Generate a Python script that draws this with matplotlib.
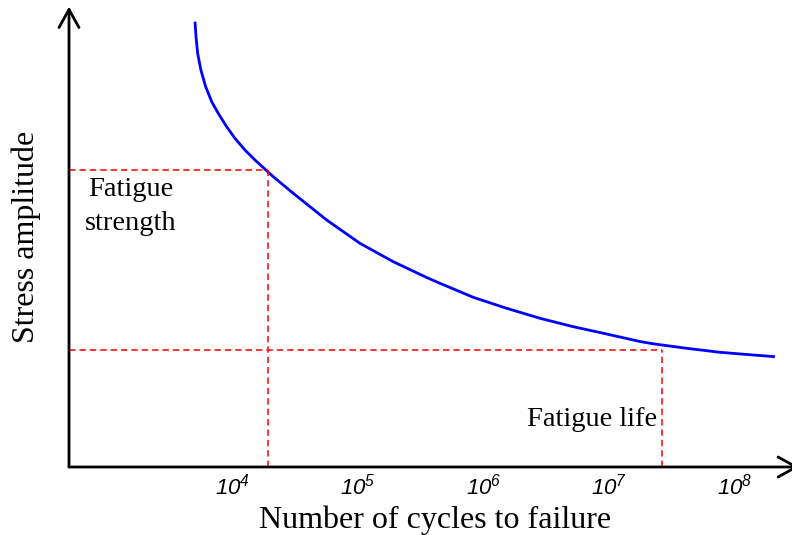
import numpy as np
import matplotlib.pyplot as plt

plt.rcParams['font.family'] = ['Liberation Serif', 'DejaVu Serif']
plt.rcParams['mathtext.fontset'] = 'custom'
plt.rcParams['mathtext.rm'] = 'Liberation Sans:italic'
plt.rcParams['mathtext.it'] = 'Liberation Sans:italic'

# S-N curve (x as log10 of cycles, stress in relative units)
log_cycles = [3.700, 3.708, 3.721, 3.747, 3.785, 3.833, 3.885, 3.952, 4.018,
              4.098, 4.178, 4.271, 4.331, 4.483, 4.749, 5.014, 5.280, 5.546,
              5.652, 5.917, 6.183, 6.449, 6.714, 6.980, 7.245, 7.351, 7.618,
              7.883, 8.148, 8.321]
stress = [445.3, 430.3, 413.7, 397, 380.3, 365.3, 353.7, 340.3, 328.7,
          317, 307, 296.3, 289.5, 273.7, 247, 223.7, 205.3, 189.5,
          183.7, 169.7, 158.7, 148.7, 140.3, 133, 125.5, 123.2, 118.7,
          114.7, 112, 110.3]

# fatigue strength / fatigue life guide lines
strength_point = (4.282, 297)
life_point = (7.418, 117)

tick_exponents = [4, 5, 6, 7, 8]
x_range = (2.696, 8.457)
y_range = (0, 459)

fig = plt.figure(figsize=(7.92, 5.35), dpi=100)
ax = fig.add_axes([69 / 792, 68 / 535, 723 / 792, 459 / 535])

cycles = np.power(10.0, log_cycles)
ax.plot(cycles, stress, color='#0000ff', lw=2.0, solid_joinstyle='round',
        solid_capstyle='butt')

for lx, s in (strength_point, life_point):
    n = 10 ** lx
    ax.plot([10 ** x_range[0], n], [s, s], color='#ff0000', lw=1.1,
            dashes=(4.2, 2.6))
    ax.plot([n, n], [0, s], color='#ff0000', lw=1.1, dashes=(4.2, 2.6))

ax.set_xscale('log')
ax.set_xlim(10 ** x_range[0], 10 ** x_range[1])
ax.set_ylim(*y_range)
ax.set_xticks([10.0 ** e for e in tick_exponents])
ax.set_xticklabels([rf'$10^{{{e}}}$' for e in tick_exponents], fontsize=16)
ax.minorticks_off()
ax.tick_params(axis='x', length=0, pad=4.5)
ax.set_yticks([])
for side in ax.spines:
    ax.spines[side].set_visible(False)

# axes drawn as arrows
arrow = dict(arrowstyle='->,head_length=1.3,head_width=0.72', lw=2.0,
             color='black', shrinkA=0, shrinkB=0, mutation_scale=10)
ax.annotate('', xy=(0, 1.003), xytext=(0, 0), xycoords='axes fraction',
            arrowprops=arrow, annotation_clip=False)
ax.annotate('', xy=(1.0097, 0), xytext=(0, 0), xycoords='axes fraction',
            arrowprops=arrow, annotation_clip=False)

ax.text(10 ** 3.19, 290, 'Fatigue\nstrength', fontsize=20.5, ha='center',
        va='top', multialignment='center', linespacing=1.5)
ax.text(10 ** 7.382, 41, 'Fatigue life', fontsize=20.5, ha='right',
        va='baseline')

fig.text(435 / 792, 1 - 528 / 535, 'Number of cycles to failure', fontsize=23,
         ha='center', va='baseline')
fig.text(26.5 / 792, 1 - 237 / 535, 'Stress amplitude', fontsize=23,
         rotation=90, ha='center', va='center')

fig.savefig('out.png', dpi=100)
